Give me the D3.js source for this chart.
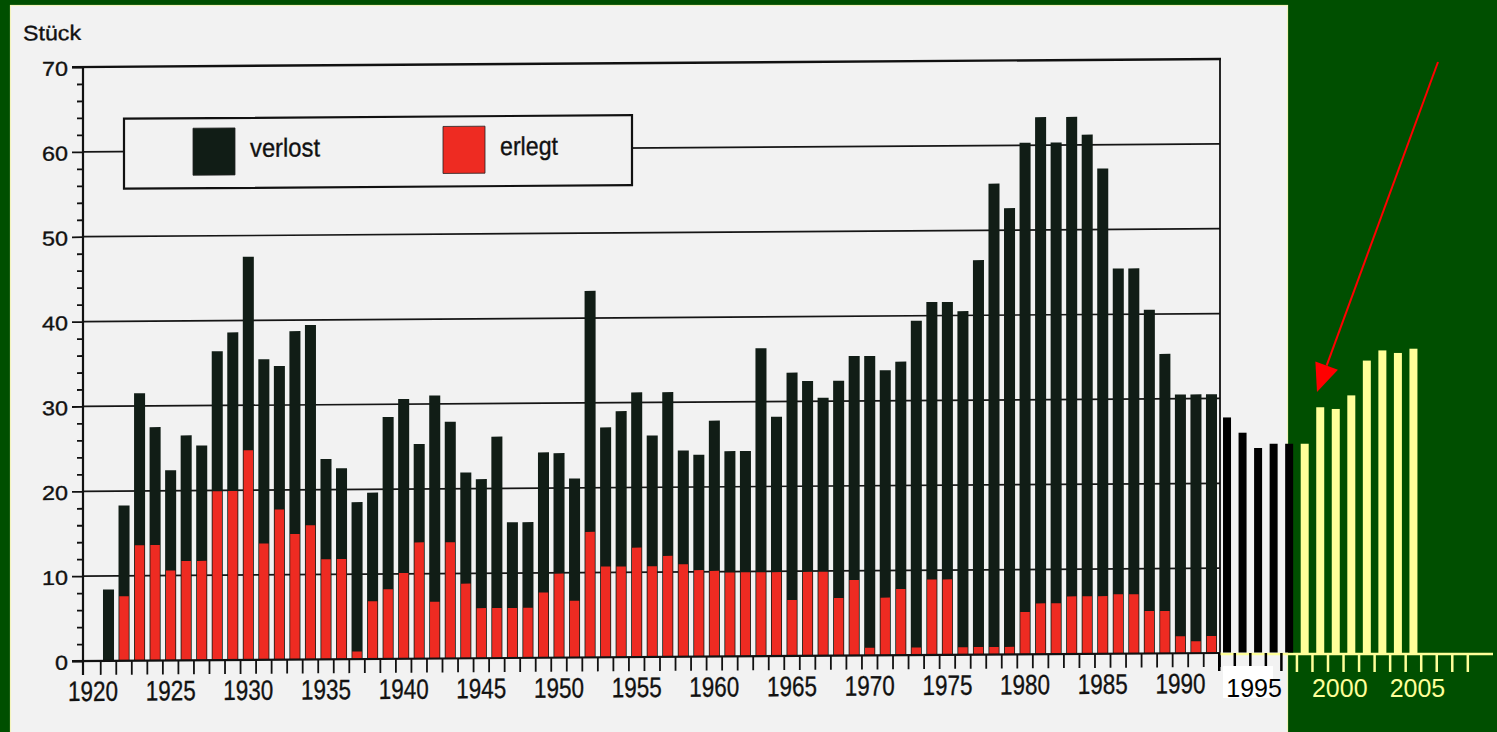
<!DOCTYPE html>
<html>
<head>
<meta charset="utf-8">
<script src="https://cdnjs.cloudflare.com/ajax/libs/d3/7.8.5/d3.min.js"></script>
<style>
  html, body { margin: 0; padding: 0; background: #004d00; overflow: hidden; }
  svg { display: block; }
  text { font-family: 'Liberation Sans', Arial, Helvetica, sans-serif; }
  .scan text { stroke: #111; stroke-width: 0.35px; }
</style>
</head>
<body>
<div id="chart"></div>
<script>
// scanned chart 1921-1992
const years = [
  1921, 1922, 1923, 1924, 1925, 1926, 1927, 1928, 1929, 1930,
  1931, 1932, 1933, 1934, 1935, 1936, 1937, 1938, 1939, 1940,
  1941, 1942, 1943, 1944, 1945, 1946, 1947, 1948, 1949, 1950,
  1951, 1952, 1953, 1954, 1955, 1956, 1957, 1958, 1959, 1960,
  1961, 1962, 1963, 1964, 1965, 1966, 1967, 1968, 1969, 1970,
  1971, 1972, 1973, 1974, 1975, 1976, 1977, 1978, 1979, 1980,
  1981, 1982, 1983, 1984, 1985, 1986, 1987, 1988, 1989, 1990,
  1991, 1992
];
const verlost = [
  8.4, 18.3, 31.5, 27.5, 22.4, 26.5, 25.3, 36.4, 38.6, 47.5,
  35.4, 34.6, 38.7, 39.4, 23.6, 22.5, 18.5, 19.6, 28.5, 30.6,
  25.3, 31.0, 27.9, 21.9, 21.1, 26.1, 16.0, 16.0, 24.2, 24.1,
  21.1, 43.2, 27.1, 29.0, 31.2, 26.1, 31.2, 24.3, 23.8, 27.8,
  24.2, 24.2, 36.3, 28.2, 33.4, 32.4, 30.4, 32.4, 35.3, 35.3,
  33.6, 34.6, 39.4, 41.6, 41.6, 40.5, 46.5, 55.5, 52.6, 60.3,
  63.3, 60.3, 63.3, 61.2, 57.2, 45.4, 45.4, 40.5, 35.3, 30.5,
  30.5, 30.5
];
const erlegt = [
  0, 7.6, 13.6, 13.6, 10.6, 11.7, 11.7, 19.9, 19.9, 24.7,
  13.7, 17.7, 14.8, 15.8, 11.8, 11.8, 0.9, 6.8, 8.2, 10.1,
  13.7, 6.7, 13.7, 8.8, 5.9, 5.9, 5.9, 5.9, 7.7, 9.9,
  6.7, 14.8, 10.7, 10.7, 12.9, 10.7, 11.9, 10.9, 10.2, 10.1,
  9.9, 9.9, 9.9, 9.9, 6.6, 9.9, 9.9, 6.8, 8.9, 0.9,
  6.8, 7.8, 0.9, 8.9, 8.9, 0.9, 0.9, 0.9, 0.9, 5.0,
  6.0, 6.0, 6.8, 6.8, 6.8, 7.0, 7.0, 5.0, 5.0, 2.0,
  1.4, 2.0
];

// years added later on top of the slide
const blackYears = [1993, 1994, 1995, 1996, 1997];
const blackValues = [27.7, 25.9, 24.1, 24.6, 24.6];
const yellowYears = [1998, 1999, 2000, 2001, 2002, 2003, 2004, 2005];
const yellowValues = [24.6, 28.9, 28.7, 30.3, 34.4, 35.6, 35.3, 35.8];

const yTicks = [0, 10, 20, 30, 40, 50, 60, 70];
const xTickLabels = [1920, 1925, 1930, 1935, 1940, 1945, 1950, 1955, 1960, 1965, 1970, 1975, 1980, 1985, 1990];
const addedLabels = [1995, 2000, 2005];

const W = 1497, H = 732;
const green = '#004f00';
const yellow = '#ffff99';
const paper = '#f2f2f2';
const ink = '#111d16';
const red = '#ee2b22';

const svg = d3.select('#chart').append('svg')
  .attr('width', W)
  .attr('height', H);

svg.append('rect').attr('width', W).attr('height', H).attr('fill', green);

svg.append('rect')
  .attr('x', 10.5).attr('y', 5.5)
  .attr('width', 1277).attr('height', 740)
  .attr('fill', paper)
  .attr('stroke', '#f4f4bc')
  .attr('stroke-width', 1.2);

const allYears = d3.range(1920, 2010);
const x = d3.scaleBand()
  .domain(allYears)
  .range([85.2, 85.2 + allYears.length * 15.535])
  .paddingInner(0.29)
  .paddingOuter(0.145);
const step = x.step();
const cx = (yr) => x(yr) + x.bandwidth() / 2;
const edge = (yr) => cx(yr) - step / 2;

const y = d3.scaleLinear().domain([0, 70]).range([661, 67]);
const yNew = d3.scaleLinear().domain([0, 70]).range([652.5, 58.5]);

// the scan is a little skewed, vertical lines stay vertical
const g = svg.append('g')
  .attr('class', 'scan')
  .attr('transform', 'translate(83,0) skewY(-0.403) translate(-83,0)');

// grid
g.selectAll('.grid')
  .data(yTicks.slice(1, -1))
  .enter()
  .append('line')
  .attr('class', 'grid')
  .attr('x1', 83).attr('x2', 1220)
  .attr('y1', (d) => y(d)).attr('y2', (d) => y(d))
  .attr('stroke', '#161616')
  .attr('stroke-width', 1.7);

g.append('line')
  .attr('x1', 72).attr('x2', 1221)
  .attr('y1', y(70)).attr('y2', y(70))
  .attr('stroke', '#111').attr('stroke-width', 2.4);
g.append('line')
  .attr('x1', 1220).attr('x2', 1220)
  .attr('y1', y(70)).attr('y2', y(0) + 14)
  .attr('stroke', '#111').attr('stroke-width', 1.8);

// y axis
const yAxis = d3.axisLeft(y).tickValues(yTicks).tickSize(11).tickSizeOuter(0).tickPadding(4);
const ya = g.append('g').attr('transform', 'translate(83,0)').call(yAxis);
ya.select('.domain').remove();
ya.selectAll('line').attr('stroke', '#111').attr('stroke-width', 1.8);
ya.selectAll('text')
  .attr('fill', '#111')
  .attr('font-size', 20)
  .attr('dy', '0.4em')
  .attr('textLength', (d) => String(d).length * 13)
  .attr('lengthAdjust', 'spacingAndGlyphs');

const minor = d3.range(0, 71, 2).filter((d) => d % 10 !== 0);
const ym = g.append('g').attr('transform', 'translate(83,0)')
  .call(d3.axisLeft(y).tickValues(minor).tickSize(6).tickSizeOuter(0).tickFormat(''));
ym.select('.domain').remove();
ym.selectAll('line').attr('stroke', '#111').attr('stroke-width', 1.8);

g.append('line')
  .attr('x1', 83).attr('x2', 83)
  .attr('y1', y(70)).attr('y2', y(0) + 14)
  .attr('stroke', '#111').attr('stroke-width', 2.2);

// bars: verlost behind, erlegt in front
g.selectAll('.verlost')
  .data(years)
  .enter()
  .append('rect')
  .attr('class', 'verlost')
  .attr('x', (d) => x(d))
  .attr('width', x.bandwidth())
  .attr('y', (d, i) => y(verlost[i]))
  .attr('height', (d, i) => y(0) - y(verlost[i]))
  .attr('fill', ink);

g.selectAll('.erlegt')
  .data(years.filter((d, i) => erlegt[i] > 0))
  .enter()
  .append('rect')
  .attr('class', 'erlegt')
  .attr('x', (d) => x(d) + 0.8)
  .attr('width', x.bandwidth() - 1.6)
  .attr('y', (d) => y(erlegt[years.indexOf(d)]))
  .attr('height', (d) => y(0) - y(erlegt[years.indexOf(d)]))
  .attr('fill', red);

// x axis
g.append('line')
  .attr('x1', 72).attr('x2', 1220)
  .attr('y1', y(0)).attr('y2', y(0))
  .attr('stroke', '#111').attr('stroke-width', 2.2);

g.selectAll('.xtick')
  .data(years)
  .enter()
  .append('line')
  .attr('class', 'xtick')
  .attr('x1', (d) => edge(d)).attr('x2', (d) => edge(d))
  .attr('y1', y(0)).attr('y2', y(0) + 14)
  .attr('stroke', '#111')
  .attr('stroke-width', 1.8);

g.selectAll('.xlabel')
  .data(xTickLabels)
  .enter()
  .append('text')
  .attr('class', 'xlabel')
  .attr('x', (d) => cx(d))
  .attr('y', 701)
  .attr('text-anchor', 'middle')
  .attr('font-size', 28)
  .attr('fill', '#111')
  .attr('textLength', 50)
  .attr('lengthAdjust', 'spacingAndGlyphs')
  .text((d) => d);

g.append('text')
  .attr('x', 23).attr('y', 40)
  .attr('font-size', 21)
  .attr('fill', '#111')
  .attr('textLength', 58)
  .attr('lengthAdjust', 'spacingAndGlyphs')
  .text('Stück');

// legend
const legend = g.append('g');
legend.append('rect')
  .attr('x', 124).attr('y', 119)
  .attr('width', 508).attr('height', 70)
  .attr('fill', paper)
  .attr('stroke', '#111')
  .attr('stroke-width', 2.2);
const legendItems = [
  { name: 'verlost', color: ink, x: 193, w: 70 },
  { name: 'erlegt', color: red, x: 443, w: 58 }
];
legend.selectAll('.swatch')
  .data(legendItems)
  .enter()
  .append('rect')
  .attr('x', (d) => d.x).attr('y', 129)
  .attr('width', 42).attr('height', 47)
  .attr('fill', (d) => d.color)
  .attr('stroke', '#222').attr('stroke-width', 0.8);
legend.selectAll('.ltext')
  .data(legendItems)
  .enter()
  .append('text')
  .attr('x', (d) => d.x + 57).attr('y', 158)
  .attr('font-size', 26)
  .attr('fill', '#111')
  .attr('textLength', (d) => d.w)
  .attr('lengthAdjust', 'spacingAndGlyphs')
  .text((d) => d.name);

// additions on the slide
const extra = svg.append('g');

extra.append('line')
  .attr('x1', 1220).attr('x2', 1493)
  .attr('y1', 654).attr('y2', 654)
  .attr('stroke', yellow).attr('stroke-width', 2.5);

extra.selectAll('.btick')
  .data(blackYears)
  .enter()
  .append('line')
  .attr('x1', (d) => edge(d)).attr('x2', (d) => edge(d))
  .attr('y1', 653).attr('y2', 671)
  .attr('stroke', '#000').attr('stroke-width', 2.5);

extra.selectAll('.ytick')
  .data(d3.range(1998, 2010))
  .enter()
  .append('line')
  .attr('x1', (d) => edge(d)).attr('x2', (d) => edge(d))
  .attr('y1', 654).attr('y2', 672)
  .attr('stroke', yellow).attr('stroke-width', 2.5);

extra.selectAll('.bbar')
  .data(blackYears)
  .enter()
  .append('rect')
  .attr('x', (d) => cx(d) - 4)
  .attr('width', 8)
  .attr('y', (d, i) => yNew(blackValues[i]))
  .attr('height', (d, i) => yNew(0) - yNew(blackValues[i]))
  .attr('fill', '#000');

extra.selectAll('.ybar')
  .data(yellowYears)
  .enter()
  .append('rect')
  .attr('x', (d) => cx(d) - 4)
  .attr('width', 8)
  .attr('y', (d, i) => yNew(yellowValues[i]))
  .attr('height', (d, i) => yNew(0) - yNew(yellowValues[i]) + 1.5)
  .attr('fill', yellow);

extra.append('rect')
  .attr('x', 1223).attr('y', 666)
  .attr('width', 50).attr('height', 32)
  .attr('fill', '#fff');

extra.selectAll('.alabel')
  .data(addedLabels)
  .enter()
  .append('text')
  .attr('x', (d) => cx(d) + (d === 1995 ? -4 : 4))
  .attr('y', 697)
  .attr('text-anchor', 'middle')
  .attr('font-size', 25)
  .attr('fill', (d) => (d < 1998 ? '#000' : yellow))
  .text((d) => d);

// red arrow pointing at 1999
const from = [1438, 62];
const tip = [1317, 392];
const dx = tip[0] - from[0], dy = tip[1] - from[1];
const len = Math.sqrt(dx * dx + dy * dy);
const ux = dx / len, uy = dy / len;
const base = [tip[0] - ux * 28, tip[1] - uy * 28];
extra.append('line')
  .attr('x1', from[0]).attr('y1', from[1])
  .attr('x2', base[0]).attr('y2', base[1])
  .attr('stroke', '#ff0000').attr('stroke-width', 2);
extra.append('polygon')
  .attr('points', [
    tip,
    [base[0] - uy * 12, base[1] + ux * 12],
    [base[0] + uy * 12, base[1] - ux * 12]
  ].map((p) => p.join(',')).join(' '))
  .attr('fill', '#ff0000');
</script>
</body>
</html>
